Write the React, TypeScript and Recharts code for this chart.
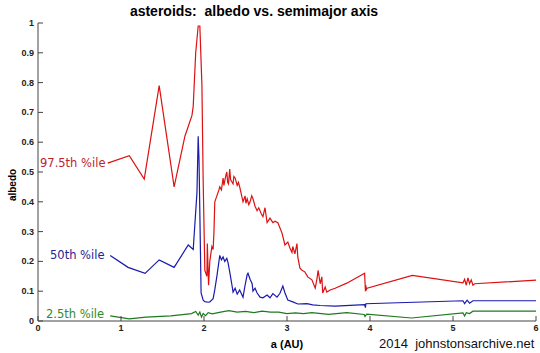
import { LineChart, Line, XAxis, YAxis } from "recharts";

// semimajor axis (AU) and albedo
const hiA = [
  0.84, 1.1, 1.28, 1.46, 1.64, 1.77, 1.855, 1.87, 1.9, 1.93, 1.95, 1.975, 1.99, 2.01, 2.035, 2.04, 2.055, 2.07,
  2.095, 2.11, 2.12, 2.13, 2.155, 2.18, 2.19, 2.21, 2.23, 2.24, 2.25, 2.265, 2.275, 2.285, 2.295, 2.31, 2.32, 2.33,
  2.35, 2.36, 2.375, 2.4, 2.415, 2.43, 2.47, 2.495, 2.505, 2.52, 2.54, 2.555, 2.575, 2.59, 2.615, 2.64, 2.66, 2.69,
  2.71, 2.735, 2.76, 2.795, 2.83, 2.855, 2.89, 2.94, 2.975, 3.01, 3.035, 3.06, 3.07, 3.095, 3.12, 3.13, 3.155, 3.18,
  3.215, 3.25, 3.3, 3.34, 3.36, 3.375, 3.4, 3.42, 3.43, 3.46, 3.48, 3.52, 3.58, 3.72, 3.935, 3.945, 3.95, 3.955,
  3.965, 4.51, 5.12, 5.14, 5.16, 5.18, 5.2, 5.22, 5.24, 5.26, 6.0,
];
const hiV = [
  0.53, 0.555, 0.476, 0.79, 0.45, 0.62, 0.69, 0.72, 0.9, 0.99, 0.99, 0.79, 0.47, 0.17, 0.15, 0.26, 0.12, 0.2,
  0.25, 0.24, 0.3, 0.4, 0.42, 0.44, 0.45, 0.44, 0.48, 0.455, 0.47, 0.49, 0.5, 0.465, 0.46, 0.51, 0.475, 0.47,
  0.46, 0.485, 0.48, 0.455, 0.465, 0.45, 0.4, 0.42, 0.395, 0.41, 0.39, 0.4, 0.42, 0.41, 0.385, 0.37, 0.38, 0.36,
  0.35, 0.38, 0.33, 0.345, 0.33, 0.335, 0.33, 0.295, 0.255, 0.265, 0.245, 0.23, 0.25, 0.225, 0.26, 0.215, 0.178, 0.17,
  0.165, 0.148, 0.138, 0.11, 0.14, 0.17, 0.125, 0.148, 0.094, 0.114, 0.097, 0.104, 0.11, 0.127, 0.16, 0.1, 0.12, 0.105,
  0.11, 0.153, 0.128, 0.14, 0.12, 0.145, 0.125, 0.138, 0.12, 0.125, 0.137,
];

const midA = [
  0.87, 1.085, 1.29, 1.46, 1.64, 1.81, 1.87, 1.915, 1.93, 1.94, 1.965, 1.99, 2.01, 2.05, 2.07, 2.11, 2.13, 2.155,
  2.19, 2.21, 2.23, 2.25, 2.275, 2.29, 2.31, 2.34, 2.35, 2.375, 2.4, 2.43, 2.47, 2.495, 2.52, 2.53, 2.555, 2.58,
  2.59, 2.615, 2.64, 2.675, 2.71, 2.76, 2.795, 2.83, 2.88, 2.915, 2.95, 2.975, 3.01, 3.07, 3.13, 3.24, 3.31, 3.4,
  3.58, 3.935, 3.945, 3.95, 5.12, 5.14, 5.17, 5.2, 5.24, 6.0,
];
const midV = [
  0.22, 0.18, 0.16, 0.205, 0.18, 0.255, 0.24, 0.43, 0.62, 0.54, 0.094, 0.07, 0.065, 0.063, 0.064, 0.075, 0.105, 0.15,
  0.22, 0.205, 0.215, 0.2, 0.21, 0.195, 0.165, 0.115, 0.097, 0.11, 0.09, 0.104, 0.08, 0.12, 0.155, 0.16, 0.14, 0.125,
  0.1, 0.11, 0.094, 0.08, 0.078, 0.087, 0.078, 0.092, 0.08, 0.093, 0.117, 0.095, 0.07, 0.064, 0.057, 0.058, 0.054, 0.052,
  0.05, 0.055, 0.045, 0.058, 0.068, 0.058, 0.07, 0.06, 0.068, 0.068,
];

const loA = [
  0.87, 1.1, 1.3, 1.6, 1.85, 1.9, 1.93, 1.95, 1.97, 1.99, 2.02, 2.05, 2.1, 2.2, 2.3, 2.4, 2.5, 2.6, 2.7, 2.8, 2.9,
  3.0, 3.1, 3.2, 3.3, 3.5, 3.72, 3.93, 3.94, 3.96, 4.5, 5.12, 5.14, 5.16, 5.2, 5.24, 6.0,
];
const loV = [
  0.017, 0.007, 0.013, 0.017, 0.025, 0.032, 0.02, 0.03, 0.013, 0.025, 0.018, 0.028, 0.024, 0.03, 0.035, 0.03, 0.032,
  0.028, 0.033, 0.03, 0.03, 0.025, 0.027, 0.025, 0.028, 0.022, 0.028, 0.022, 0.015, 0.023, 0.01, 0.027, 0.017, 0.028,
  0.025, 0.033, 0.033,
];

const xTicks = [0, 1, 2, 3, 4, 5, 6];
const yTicks = [0, 0.1, 0.2, 0.3, 0.4, 0.5, 0.6, 0.7, 0.8, 0.9, 1];

const pairs = (a: number[], v: number[]) => a.map((x, i) => ({ a: x, v: v[i] }));
const hi = pairs(hiA, hiV);
const mid = pairs(midA, midV);
const lo = pairs(loA, loV);

const frame = "#444";
const tickFont = { fontFamily: "Liberation Sans, Arial, sans-serif", fontSize: 9, fontWeight: 700, fill: "#222" };

const LeftTick = (p: any) => (
  <g>
    <line x1={p.x + 4} x2={p.x + 9} y1={p.y} y2={p.y} stroke={frame} />
    <text x={p.x} y={p.y} textAnchor="end" dominantBaseline="central" {...tickFont}>
      {p.payload.value}
    </text>
  </g>
);
const BottomTick = (p: any) => (
  <g>
    <line x1={p.x} x2={p.x} y1={p.y - 4} y2={p.y - 9} stroke={frame} />
    <text x={p.x} y={p.y + 6} textAnchor="middle" {...tickFont}>
      {p.payload.value}
    </text>
  </g>
);
const TopTick = (p: any) => <line x1={p.x} x2={p.x} y1={p.y} y2={p.y + 5} stroke={frame} />;
const RightTick = (p: any) => <line x1={p.x} x2={p.x - 5} y1={p.y} y2={p.y} stroke={frame} />;

const label = (color: string, left: number, top: number, text: string) => (
  <div
    style={{
      position: "absolute",
      left,
      top,
      color,
      fontFamily: "DejaVu Sans, Verdana, sans-serif",
      fontSize: 11.5,
      lineHeight: "14px",
      whiteSpace: "pre",
    }}
  >
    {text}
  </div>
);

export default function App() {
  return (
    <div style={{ position: "relative", width: 540, height: 353, background: "#fff", overflow: "hidden" }}>
      <style>{"body{margin:0}"}</style>
      <LineChart width={540} height={353} data={hi} margin={{ top: 23, right: 4, bottom: 0, left: 0 }}>
        <XAxis
          dataKey="a"
          type="number"
          domain={[0, 6]}
          ticks={xTicks}
          height={32}
          stroke={frame}
          tickLine={false}
          tickSize={0}
          tickMargin={4}
          tick={BottomTick}
          allowDataOverflow
        />
        <XAxis
          xAxisId="top"
          orientation="top"
          dataKey="a"
          type="number"
          domain={[0, 6]}
          ticks={xTicks}
          height={0}
          stroke={frame}
          tickLine={false}
          tickSize={0}
          tickMargin={0}
          tick={TopTick}
        />
        <YAxis
          type="number"
          domain={[0, 1]}
          ticks={yTicks}
          width={38}
          stroke={frame}
          tickLine={false}
          tickSize={0}
          tickMargin={4}
          tick={LeftTick}
          allowDataOverflow
        />
        <YAxis
          yAxisId="right"
          orientation="right"
          type="number"
          domain={[0, 1]}
          ticks={yTicks}
          width={0}
          stroke={frame}
          tickLine={false}
          tickSize={0}
          tickMargin={0}
          tick={RightTick}
        />
        <Line data={lo} dataKey="v" stroke="#1f7a1f" strokeWidth={1.2} dot={false} isAnimationActive={false} />
        <Line data={mid} dataKey="v" stroke="#1a1aad" strokeWidth={1.2} dot={false} isAnimationActive={false} />
        <Line data={hi} dataKey="v" stroke="#dd1111" strokeWidth={1.2} dot={false} isAnimationActive={false} />
      </LineChart>

      <div
        style={{
          position: "absolute",
          left: 0,
          width: 508,
          top: 3,
          textAlign: "center",
          fontFamily: "Liberation Sans, Arial, sans-serif",
          fontWeight: 700,
          fontSize: 14,
          whiteSpace: "pre",
        }}
      >
        {"asteroids:  albedo vs. semimajor axis"}
      </div>
      <div
        style={{
          position: "absolute",
          left: 12,
          top: 185,
          transform: "translate(-50%, -50%) rotate(-90deg)",
          fontFamily: "Liberation Sans, Arial, sans-serif",
          fontWeight: 700,
          fontSize: 10,
        }}
      >
        albedo
      </div>
      <div
        style={{
          position: "absolute",
          left: 287,
          top: 344,
          transform: "translate(-50%, -50%)",
          fontFamily: "Liberation Sans, Arial, sans-serif",
          fontWeight: 700,
          fontSize: 11,
        }}
      >
        a (AU)
      </div>
      <div
        style={{
          position: "absolute",
          left: 379,
          top: 336,
          fontFamily: "Liberation Sans, Arial, sans-serif",
          fontSize: 13,
          whiteSpace: "pre",
          color: "#111",
        }}
      >
        {"2014  johnstonsarchive.net"}
      </div>
      {label("#c0202e", 40, 156, "97.5th %ile")}
      {label("#25258f", 50, 248, "50th %ile")}
      {label("#2e8b2e", 46, 307, "2.5th %ile")}
    </div>
  );
}
